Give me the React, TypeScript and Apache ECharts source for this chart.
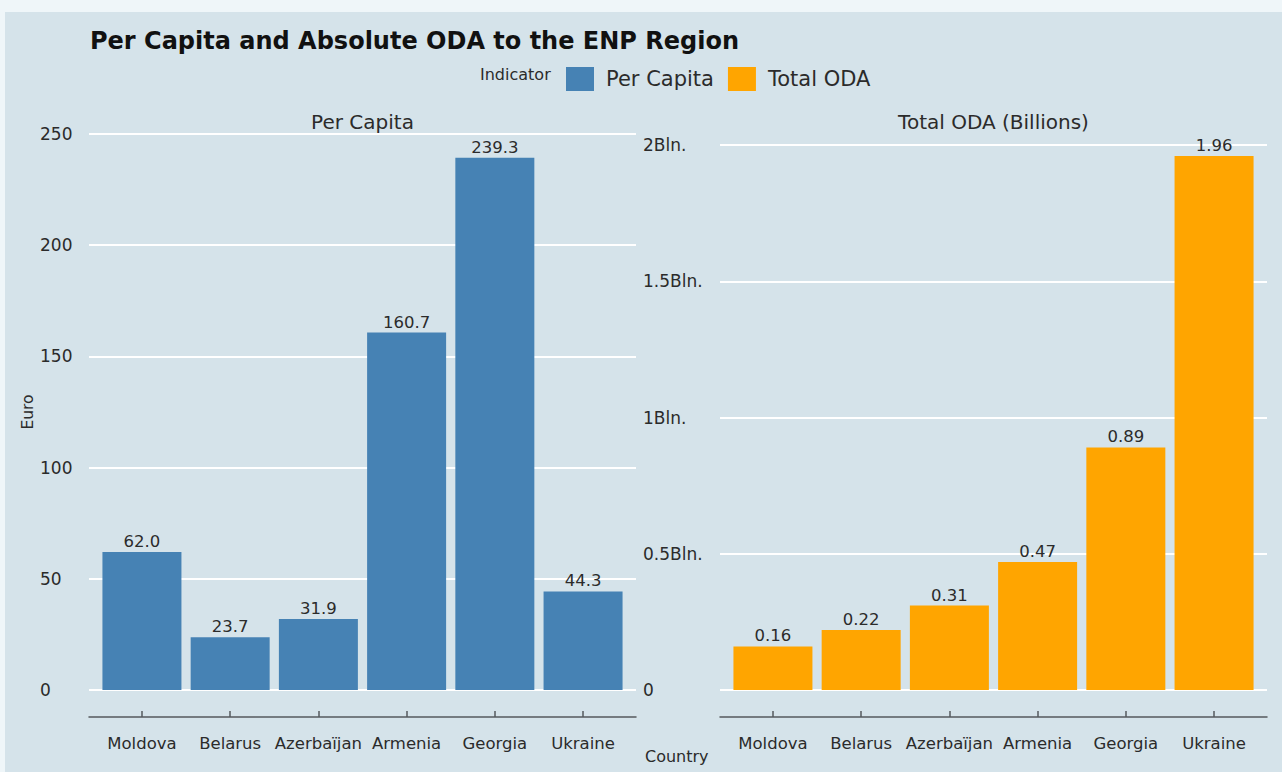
import React, { useEffect, useRef } from "react";
import * as echarts from "echarts";

const countries = ["Moldova", "Belarus", "Azerbaïjan", "Armenia", "Georgia", "Ukraine"];
const perCapita = [62.0, 23.7, 31.9, 160.7, 239.3, 44.3];
const totalOda = [0.16, 0.22, 0.31, 0.47, 0.89, 1.96];
const perCapitaTicks = [0, 50, 100, 150, 200, 250];
const odaTicks = [0, 0.5, 1, 1.5, 2];
const odaTickLabels = ["0", "0.5Bln.", "1Bln.", "1.5Bln.", "2Bln."];
const seriesNames = ["Per Capita", "Total ODA"];
const panelTitles = ["Per Capita", "Total ODA (Billions)"];

const FONT = "DejaVu Sans";
const TEXT = "#2b2b2b";

export default function App() {
  const ref = useRef<HTMLDivElement>(null);
  useEffect(() => {
    if (!ref.current) return;
    const chart = echarts.init(ref.current, null, { renderer: "svg" });
    const idx = countries.map((_, i) => i);
    const xAxisBase = (gridIndex: number) => ({
      type: "value" as const,
      gridIndex,
      min: -0.6,
      max: 5.6,
      position: "bottom" as const,
      offset: 27,
      splitLine: { show: false },
      axisLine: { show: true, onZero: false, lineStyle: { color: "#555a5e", width: 1.5 } },
      axisTick: { show: true, inside: true, length: 6, customValues: idx, lineStyle: { color: "#555a5e", width: 1.5 } },
      axisLabel: {
        customValues: idx,
        formatter: (v: number) => countries[Math.round(v)] ?? "",
        margin: 18,
        fontFamily: FONT,
        fontSize: 16.5,
        color: TEXT,
      },
    });
    const option: any = {
      animation: false,
      backgroundColor: "#eff6f9",
      textStyle: { fontFamily: FONT },
      graphic: [
        { type: "rect", silent: true, z: -10, shape: { x: 5, y: 12, width: 1277, height: 760 }, style: { fill: "#d5e3ea" } },
        { type: "text", left: 90, top: 29, style: { text: "Per Capita and Absolute ODA to the ENP Region", font: `bold 24px '${FONT}'`, fill: "#111" } },
        { type: "text", left: 480, top: 66, style: { text: "Indicator", font: `16px '${FONT}'`, fill: TEXT } },
        { type: "text", x: 362.5, y: 122, style: { text: panelTitles[0], font: `20px '${FONT}'`, fill: TEXT, align: "center", verticalAlign: "middle" } },
        { type: "text", x: 993.5, y: 122, style: { text: panelTitles[1], font: `20px '${FONT}'`, fill: TEXT, align: "center", verticalAlign: "middle" } },
        { type: "text", left: 645, top: 748, style: { text: "Country", font: `16px '${FONT}'`, fill: TEXT } },
      ],
      legend: {
        data: seriesNames,
        left: 561,
        top: 62,
        itemWidth: 28,
        itemHeight: 24,
        itemGap: 14,
        icon: "rect",
        textStyle: { fontFamily: FONT, fontSize: 21, color: TEXT, padding: [0, 0, 0, 7] },
      },
      grid: [
        { left: 89, top: 134, width: 547, height: 556 },
        { left: 720, top: 145, width: 547, height: 545 },
      ],
      xAxis: [xAxisBase(0), xAxisBase(1)],
      yAxis: [
        {
          type: "value",
          gridIndex: 0,
          min: 0,
          max: 250,
          interval: 50,
          name: "Euro",
          nameLocation: "middle",
          nameRotate: 90,
          nameGap: 52,
          nameTextStyle: { fontFamily: FONT, fontSize: 15.5, color: TEXT },
          axisLine: { show: false },
          axisTick: { show: false },
          axisLabel: {
            align: "left",
            margin: 49,
            fontFamily: FONT,
            fontSize: 17,
            color: TEXT,
            formatter: (v: number) => (perCapitaTicks.includes(v) ? String(v) : ""),
          },
          splitLine: { show: true, lineStyle: { color: "#ffffff", width: 2 } },
        },
        {
          type: "value",
          gridIndex: 1,
          min: 0,
          max: 2,
          interval: 0.5,
          axisLine: { show: false },
          axisTick: { show: false },
          axisLabel: {
            align: "left",
            margin: 77,
            fontFamily: FONT,
            fontSize: 17,
            color: TEXT,
            formatter: (v: number) => {
              const k = odaTicks.findIndex((t) => Math.abs(t - v) < 1e-9);
              return k >= 0 ? odaTickLabels[k] : "";
            },
          },
          splitLine: { show: true, lineStyle: { color: "#ffffff", width: 2 } },
        },
      ],
      series: [
        {
          name: seriesNames[0],
          type: "bar",
          xAxisIndex: 0,
          yAxisIndex: 0,
          barWidth: 79,
          itemStyle: { color: "#4682b4" },
          data: perCapita.map((v, i) => [i, v]),
          label: {
            show: true,
            position: "top",
            distance: 2,
            fontFamily: FONT,
            fontSize: 16.5,
            color: TEXT,
            formatter: (p: any) => Number(p.value[1]).toFixed(1),
          },
        },
        {
          name: seriesNames[1],
          type: "bar",
          xAxisIndex: 1,
          yAxisIndex: 1,
          barWidth: 79,
          itemStyle: { color: "#ffa500" },
          data: totalOda.map((v, i) => [i, v]),
          label: {
            show: true,
            position: "top",
            distance: 2,
            fontFamily: FONT,
            fontSize: 16.5,
            color: TEXT,
            formatter: (p: any) => Number(p.value[1]).toFixed(2),
          },
        },
      ],
    };
    chart.setOption(option);
    return () => chart.dispose();
  }, []);
  return <div ref={ref} style={{ position: "absolute", left: 0, top: 0, width: 1282, height: 772 }} />;
}
